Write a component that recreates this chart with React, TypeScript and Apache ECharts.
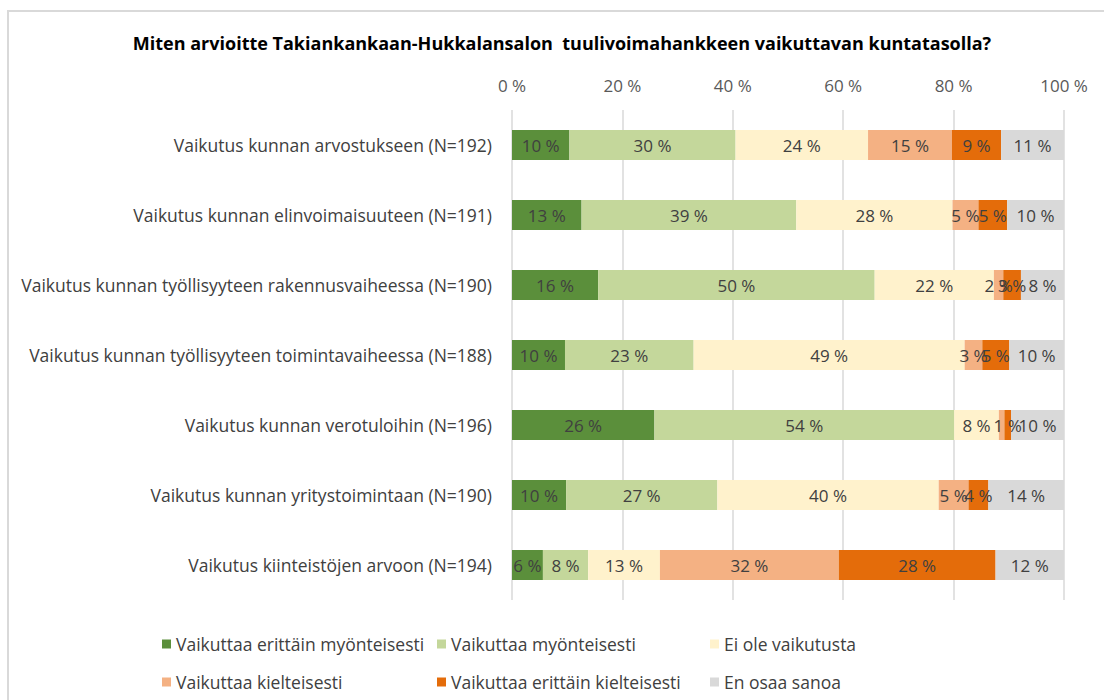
import React, { useEffect, useRef } from "react";
import * as echarts from "echarts";

const TITLE = "Miten arvioitte Takiankankaan-Hukkalansalon  tuulivoimahankkeen vaikuttavan kuntatasolla?";

const categories = [
  "Vaikutus kunnan arvostukseen (N=192)",
  "Vaikutus kunnan elinvoimaisuuteen (N=191)",
  "Vaikutus kunnan työllisyyteen rakennusvaiheessa (N=190)",
  "Vaikutus kunnan työllisyyteen toimintavaiheessa (N=188)",
  "Vaikutus kunnan verotuloihin (N=196)",
  "Vaikutus kunnan yritystoimintaan (N=190)",
  "Vaikutus kiinteistöjen arvoon (N=194)",
];

const seriesNames = [
  "Vaikuttaa erittäin myönteisesti",
  "Vaikuttaa myönteisesti",
  "Ei ole vaikutusta",
  "Vaikuttaa kielteisesti",
  "Vaikuttaa erittäin kielteisesti",
  "En osaa sanoa",
];

const veryPositive = [10.4, 12.6, 15.6, 9.6, 25.8, 9.8, 5.6];
const positive = [30.1, 38.9, 50.1, 23.3, 54.3, 27.4, 8.2];
const noEffect = [24.0, 28.3, 21.6, 49.1, 8.1, 40.1, 13.0];
const negative = [15.2, 4.7, 1.7, 3.2, 1.0, 5.4, 32.4];
const veryNegative = [8.9, 5.2, 3.2, 4.9, 1.2, 3.6, 28.4];
const dontKnow = [11.4, 10.3, 7.8, 9.9, 9.6, 13.7, 12.4];

const seriesValues = [veryPositive, positive, noEffect, negative, veryNegative, dontKnow];
const colors = ["#5b8f3b", "#c4d79b", "#fff2cc", "#f4b183", "#e46c0a", "#d9d9d9"];

// labels not shown in the reference: [seriesIndex, categoryIndex]
const hiddenLabels = [[3, 4]];

const xTicks = [0, 20, 40, 60, 80, 100];

const FONT = "'Open Sans', sans-serif";

export default function App() {
  const ref = useRef<HTMLDivElement>(null);
  useEffect(() => {
    const chart = echarts.init(ref.current!, undefined, { renderer: "svg" });
    const legendPos = [
      [162, 635],
      [437, 635],
      [710, 635],
      [162, 673],
      [437, 673],
      [710, 673],
    ];
    chart.setOption({
      animation: false,
      backgroundColor: "#ffffff",
      textStyle: { fontFamily: FONT },
      graphic: [
        {
          type: "polyline",
          shape: { points: [[8, 710], [8, 11], [1110, 11]] },
          style: { stroke: "#d9d9d9", lineWidth: 2, fill: "none" },
        },
        {
          type: "text",
          x: 562,
          y: 43,
          style: {
            text: TITLE,
            fontFamily: FONT,
            fontSize: 18,
            fontWeight: "bold",
            fill: "#000000",
            align: "center",
            verticalAlign: "middle",
          },
        },
      ],
      legend: seriesNames.map((n, i) => ({
        data: [n],
        left: legendPos[i][0],
        top: legendPos[i][1],
        itemWidth: 9,
        itemHeight: 9,
        icon: "rect",
        padding: 0,
        textStyle: { fontFamily: FONT, fontSize: 17.5, color: "#404040" },
      })),
      grid: { left: 512, right: 40, top: 110, bottom: 100 },
      xAxis: {
        type: "value",
        position: "top",
        min: xTicks[0],
        max: xTicks[xTicks.length - 1],
        interval: 20,
        axisLine: { show: false },
        axisTick: { show: false },
        axisLabel: {
          formatter: "{value} %",
          fontFamily: FONT,
          fontSize: 17,
          color: "#595959",
          margin: 16,
        },
        splitLine: { lineStyle: { color: "#d9d9d9", width: 1.5 } },
      },
      yAxis: {
        type: "category",
        inverse: true,
        data: categories,
        axisLine: { show: false },
        axisTick: { show: false },
        axisLabel: { fontFamily: FONT, fontSize: 17.5, color: "#404040", margin: 20 },
      },
      series: seriesNames.map((name, si) => ({
        name,
        type: "bar",
        stack: "total",
        barWidth: 30,
        itemStyle: { color: colors[si] },
        label: {
          show: true,
          position: "inside",
          fontFamily: FONT,
          fontSize: 17,
          color: "#404040",
          formatter: (p: any) => Math.round(p.value) + " %",
        },
        data: seriesValues[si].map((v, ci) =>
          hiddenLabels.some((h) => h[0] === si && h[1] === ci)
            ? { value: v, label: { show: false } }
            : v
        ),
      })),
    });
    return () => chart.dispose();
  }, []);
  return (
    <div
      ref={ref}
      style={{ position: "fixed", left: 0, top: 0, width: 1104, height: 700 }}
    />
  );
}
